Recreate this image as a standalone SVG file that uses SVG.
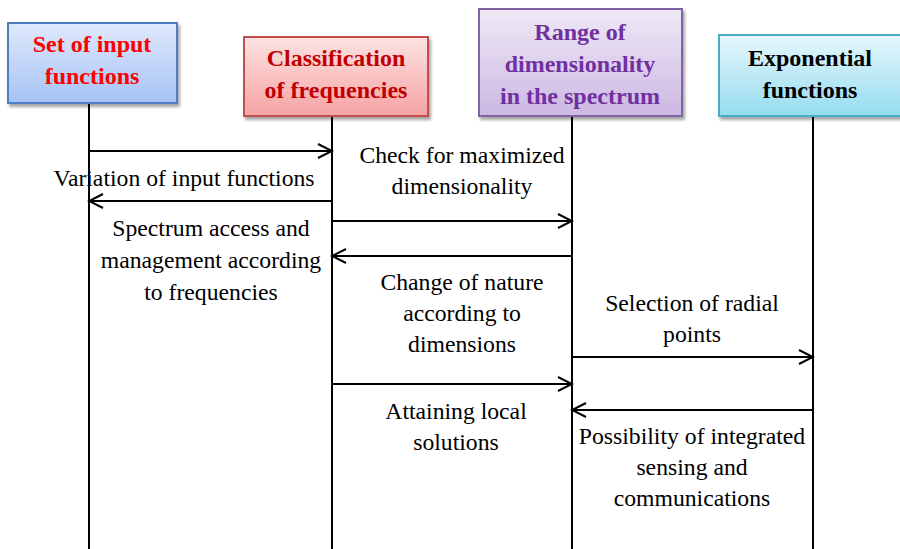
<svg xmlns="http://www.w3.org/2000/svg" width="900" height="549" viewBox="0 0 900 549">
  <style>
    .box { stroke-width: 2; }
    .head { font-family: "Liberation Serif", "Times New Roman", serif; font-weight: bold; font-size: 24px; text-anchor: middle; }
    .life { stroke: #000; stroke-width: 2; fill: none; }
    .msg { stroke: #000; stroke-width: 2; fill: none; marker-end: url(#arrow); }
    .lbl { font-family: "Liberation Serif", "Times New Roman", serif; font-size: 23.7px; text-anchor: middle; fill: #000; }
  </style>
  <defs>
    <marker id="arrow" viewBox="0 0 20 20" refX="18" refY="10" markerWidth="20" markerHeight="20" markerUnits="userSpaceOnUse" orient="auto">
      <path d="M4,3 L18,10 L4,17" fill="none" stroke="#000" stroke-width="2"/>
    </marker>
    <linearGradient id="gBlue" x1="0" y1="0" x2="0" y2="1">
      <stop offset="0" stop-color="#dfe9fb"/>
      <stop offset="1" stop-color="#a6c3f4"/>
    </linearGradient>
    <linearGradient id="gRed" x1="0" y1="0" x2="0" y2="1">
      <stop offset="0" stop-color="#fde3e3"/>
      <stop offset="1" stop-color="#f6a3a3"/>
    </linearGradient>
    <linearGradient id="gPurple" x1="0" y1="0" x2="0" y2="1">
      <stop offset="0" stop-color="#efe9f6"/>
      <stop offset="1" stop-color="#ccb8e3"/>
    </linearGradient>
    <linearGradient id="gCyan" x1="0" y1="0" x2="0" y2="1">
      <stop offset="0" stop-color="#e6f7fc"/>
      <stop offset="1" stop-color="#95dcf0"/>
    </linearGradient>
    <filter id="shadow" x="-10%" y="-10%" width="130%" height="130%">
      <feDropShadow dx="2" dy="3" stdDeviation="1.5" flood-color="#000" flood-opacity="0.35"/>
    </filter>
  </defs>

  <!-- lifelines -->
  <g id="lifelines">
    <line class="life" x1="89" y1="103" x2="89" y2="549"/>
    <line class="life" x1="332" y1="117" x2="332" y2="549"/>
    <line class="life" x1="572" y1="117" x2="572" y2="549"/>
    <line class="life" x1="813" y1="117" x2="813" y2="549"/>
  </g>

  <!-- participants -->
  <g id="input-functions">
    <rect class="box" x="8" y="23" width="169" height="80" fill="url(#gBlue)" stroke="#4f7fbf" filter="url(#shadow)"/>
    <text class="head" fill="#ff0000"><tspan x="92" y="52">Set of input</tspan><tspan x="92" y="84">functions</tspan></text>
  </g>
  <g id="frequency-classes">
    <rect class="box" x="244" y="37" width="184" height="79" fill="url(#gRed)" stroke="#c0504d" filter="url(#shadow)"/>
    <text class="head" fill="#c00000"><tspan x="336" y="66">Classification</tspan><tspan x="336" y="98">of frequencies</tspan></text>
  </g>
  <g id="dimensionality-range">
    <rect class="box" x="479" y="9" width="203" height="107" fill="url(#gPurple)" stroke="#8064a2" filter="url(#shadow)"/>
    <text class="head" fill="#7030a0"><tspan x="580" y="40">Range of</tspan><tspan x="580" y="72">dimensionality</tspan><tspan x="580" y="104">in the spectrum</tspan></text>
  </g>
  <g id="exponential-functions">
    <rect class="box" x="719" y="35" width="185" height="81" fill="url(#gCyan)" stroke="#4bacc6" filter="url(#shadow)"/>
    <text class="head" fill="#000"><tspan x="810" y="66">Exponential</tspan><tspan x="810" y="98">functions</tspan></text>
  </g>

  <!-- messages -->
  <g id="connectors">
    <line class="msg" x1="89" y1="151" x2="332" y2="151"/>
    <line class="msg" x1="332" y1="201" x2="89" y2="201"/>
    <line class="msg" x1="332" y1="221" x2="572" y2="221"/>
    <line class="msg" x1="572" y1="256" x2="332" y2="256"/>
    <line class="msg" x1="572" y1="357" x2="813" y2="357"/>
    <line class="msg" x1="332" y1="384" x2="572" y2="384"/>
    <line class="msg" x1="813" y1="410" x2="572" y2="410"/>
  </g>

  <!-- message labels -->
  <g id="labels">
    <text class="lbl" x="184" y="186">Variation of input functions</text>
    <text class="lbl"><tspan x="211" y="236">Spectrum access and</tspan><tspan x="211" y="268">management according</tspan><tspan x="211" y="300">to frequencies</tspan></text>
    <text class="lbl"><tspan x="462" y="163">Check for maximized</tspan><tspan x="462" y="194">dimensionality</tspan></text>
    <text class="lbl"><tspan x="462" y="290">Change of nature</tspan><tspan x="462" y="321">according to</tspan><tspan x="462" y="352">dimensions</tspan></text>
    <text class="lbl"><tspan x="456" y="419">Attaining local</tspan><tspan x="456" y="450">solutions</tspan></text>
    <text class="lbl"><tspan x="692" y="311">Selection of radial</tspan><tspan x="692" y="342">points</tspan></text>
    <text class="lbl"><tspan x="692" y="444">Possibility of integrated</tspan><tspan x="692" y="475">sensing and</tspan><tspan x="692" y="506">communications</tspan></text>
  </g>
</svg>
